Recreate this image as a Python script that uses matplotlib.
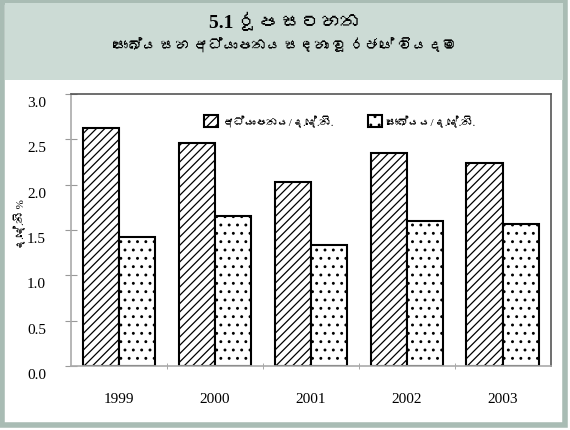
import matplotlib.pyplot as plt
import matplotlib.patches as mpatches
import matplotlib.transforms as mtransforms
from matplotlib import font_manager
from matplotlib.ft2font import FT2Font
import numpy as np

years = ['1999', '2000', '2001', '2002', '2003']
education = [2.62, 2.46, 2.03, 2.35, 2.24]
health = [1.42, 1.65, 1.33, 1.60, 1.57]

title_1 = '5.1 රූප සටහන'
title_2 = 'සෞඛ්ය සහ අධ්යාපනය සඳහා වූ රජයේ වියදම'
edu_label = 'අධ්යාපනය/ද.දේ.නි.'
health_label = 'සෞඛ්යය/ද.දේ.නි.'
y_label = 'ද.දේ.නි %'


def sinhala_families():
    # installed faces that carry Sinhala letters, used as fallback
    found = []
    for f in font_manager.fontManager.ttflist:
        try:
            if 0x0D85 in FT2Font(f.fname).get_charmap() and f.name not in found:
                found.append(f.name)
        except Exception:
            pass
    return found


fams = ['Liberation Serif'] + sinhala_families() + ['DejaVu Sans']
plt.rcParams['font.family'] = fams
plt.rcParams['hatch.linewidth'] = 0.9

fig = plt.figure(figsize=(5.70, 4.31), dpi=100)
fig.patch.set_facecolor('white')

# page frame and shaded header strip
frame_col = '#a9bcb4'
fig.add_artist(mpatches.Rectangle((0.004, 0.012), 0.988, 0.982, transform=fig.transFigure,
                                  facecolor='white', edgecolor=frame_col, linewidth=4,
                                  zorder=-5))
fig.add_artist(mpatches.Rectangle((0.008, 0.812), 0.980, 0.178, transform=fig.transFigure,
                                  facecolor='#ccdbd5', edgecolor='none', zorder=-4))
fig.text(0.5, 0.947, title_1, ha='center', va='center', fontsize=14, fontweight='bold')
fig.text(0.5, 0.893, title_2, ha='center', va='center', fontsize=10.5, fontweight='bold')

ax = fig.add_axes([0.1246, 0.1485, 0.842, 0.6311])
x = np.arange(len(years))
w = 0.38
ax.bar(x - w / 2, education, w, facecolor='white', edgecolor='black', hatch='////',
       linewidth=1.5, label=edu_label)
ax.bar(x + w / 2, health, w, facecolor='white', edgecolor='black', hatch='..',
       linewidth=1.5, label=health_label)

ax.set_xlim(-0.5, len(years) - 0.5)
ax.set_ylim(0, 3.0)
ax.set_yticks(np.arange(0, 3.01, 0.5))
ax.set_yticklabels([f'{v:.1f}' for v in np.arange(0, 3.01, 0.5)], fontsize=11)
ax.set_xticks(x)
ax.set_xticklabels(years, fontsize=11)
ax.set_xticks(x[:-1] + 0.5, minor=True)
ax.tick_params(axis='x', which='major', length=0, pad=19)
ax.tick_params(axis='x', which='minor', length=5, direction='inout', color='#999999')
ax.tick_params(axis='y', length=8, direction='inout', color='#999999', pad=14)

# value labels sit a little below their ticks
shift = mtransforms.ScaledTranslation(0, -0.07, fig.dpi_scale_trans)
for lab in ax.get_yticklabels():
    lab.set_transform(lab.get_transform() + shift)

for side in ax.spines.values():
    side.set_color('#555555')
    side.set_linewidth(1.2)
ax.spines['left'].set_color('#aaaaaa')
ax.spines['bottom'].set_color('#aaaaaa')

fig.text(0.036, 0.48, y_label, rotation=90, ha='center', va='center', fontsize=8)

ax.legend(loc='upper center', bbox_to_anchor=(0.56, 0.96), ncol=2, frameon=False,
          fontsize=8, handlelength=1.3, handleheight=1.3, columnspacing=3.0,
          handletextpad=0.4)

fig.savefig('out.png', dpi=100)
